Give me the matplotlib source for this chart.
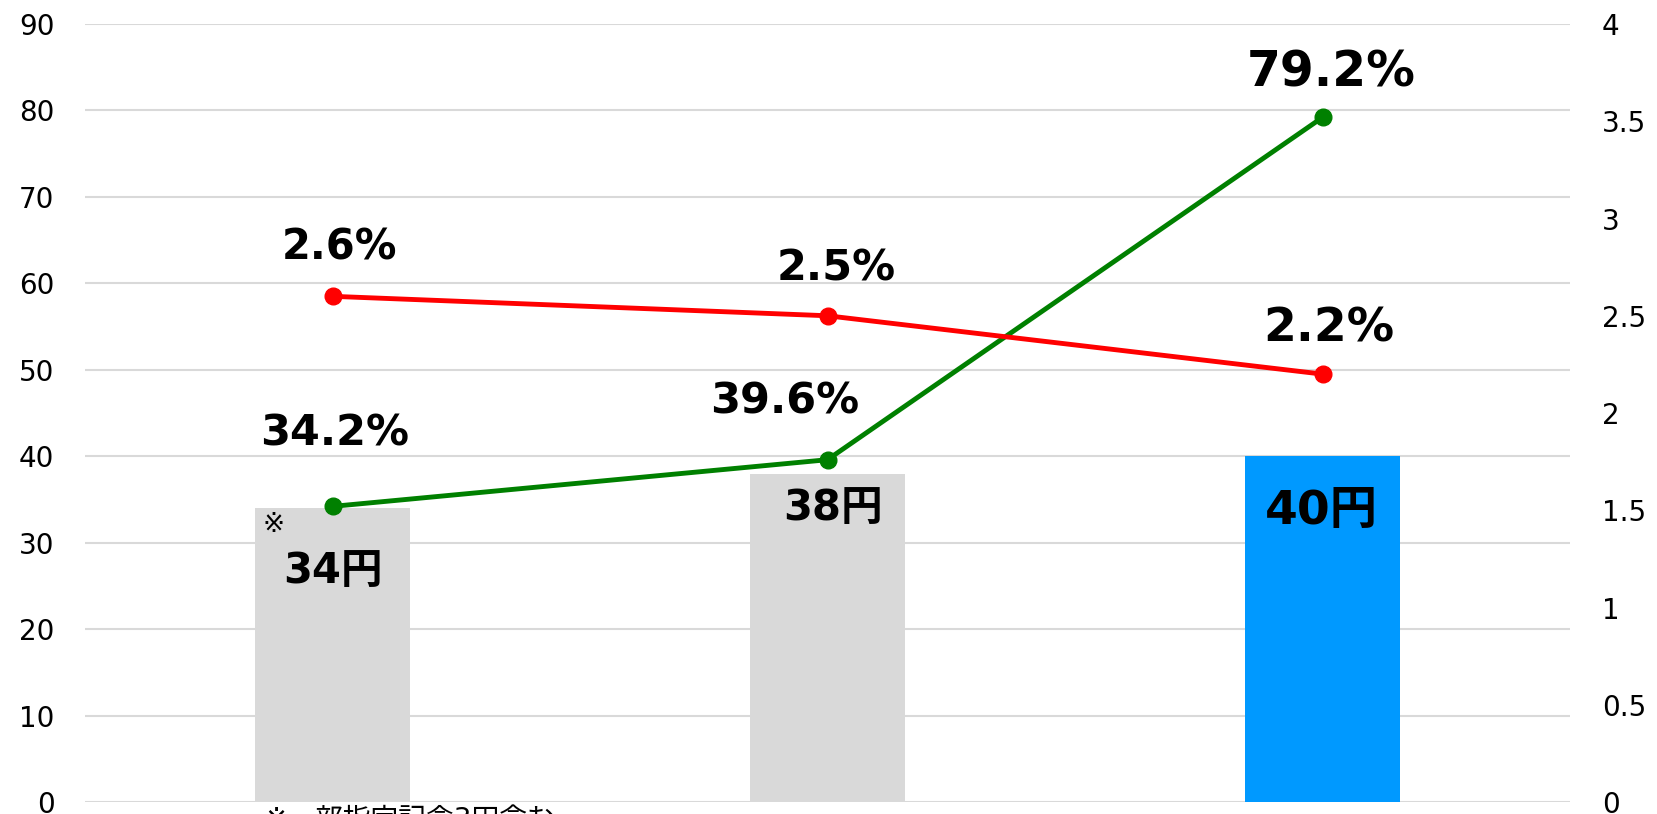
import matplotlib
matplotlib.use('Agg')
import matplotlib.pyplot as plt

plt.rcParams['font.family'] = ['DejaVu Sans', 'Noto Sans CJK JP']

# data
categories = ['A', 'B', 'C']
price = [34, 38, 40]
price_labels = ['34円', '38円', '40円']
green_rate = [34.2, 39.6, 79.2]
red_rate = [2.6, 2.5, 2.2]
bar_colors = ['#D9D9D9', '#D9D9D9', '#0099FF']

fig = plt.figure(figsize=(16.57, 8.14), dpi=100)
ax = fig.add_axes([0.0513, 0.0147, 0.8962, 0.9558])
ax2 = ax.twinx()

x = range(len(categories))
ax.bar(x, price, width=0.315, color=bar_colors, zorder=2)
ax.plot(x, green_rate, color='#008000', lw=3.5, marker='o', ms=12, zorder=4)
ax2.plot(x, red_rate, color='#FF0000', lw=3.5, marker='o', ms=12, zorder=4)

ax.set_xlim(-0.5, 2.5)
ax.set_ylim(0, 90)
ax.set_yticks(range(0, 91, 10))
ax2.set_ylim(0, 4)
ax2.set_yticks([0, 0.5, 1, 1.5, 2, 2.5, 3, 3.5, 4])
ax2.set_yticklabels(['0', '0.5', '1', '1.5', '2', '2.5', '3', '3.5', '4'])
ax.set_xticks([])

ax.grid(axis='y', color='#D9D9D9', lw=1.5, zorder=0)
ax.set_axisbelow(True)
for a in (ax, ax2):
    for s in a.spines.values():
        s.set_visible(False)
ax.tick_params(axis='y', length=0, pad=22, labelsize=20)
ax2.tick_params(axis='y', length=0, pad=23, labelsize=20)
ax2.set_zorder(ax.get_zorder() + 1)
ax2.patch.set_visible(False)

# value labels
green_off = [(2, 73, 31), (-43, 58, 31), (9, 45, 35)]
for i, v in enumerate(green_rate):
    dx, dy, fs = green_off[i]
    ax.annotate(f'{v}%', (i, v), xytext=(dx, dy), textcoords='offset pixels',
                ha='center', va='center', fontsize=fs, fontweight='bold', zorder=5)

red_off = [(7, 49, 30), (9, 47, 31), (6, 45, 34)]
for i, v in enumerate(red_rate):
    dx, dy, fs = red_off[i]
    ax2.annotate(f'{v}%', (i, v), xytext=(dx, dy), textcoords='offset pixels',
                 ha='center', va='center', fontsize=fs, fontweight='bold')

bar_off = [(0, -63, 30), (5, -34, 30), (-1, -55, 34)]
for i, v in enumerate(price):
    dx, dy, fs = bar_off[i]
    ax.annotate(price_labels[i], (i, v), xytext=(dx, dy), textcoords='offset pixels',
                ha='center', va='center', fontsize=fs, fontweight='bold', zorder=5)

ax.annotate('※', (0, price[0]), xytext=(-59, -17), textcoords='offset pixels',
            ha='center', va='center', fontsize=19, zorder=5)

fig.text(264 / 1657, 1 - 806 / 814, '※一部指定記念3円含む', fontsize=20,
         ha='left', va='top')

fig.savefig('out.png', dpi=100)
